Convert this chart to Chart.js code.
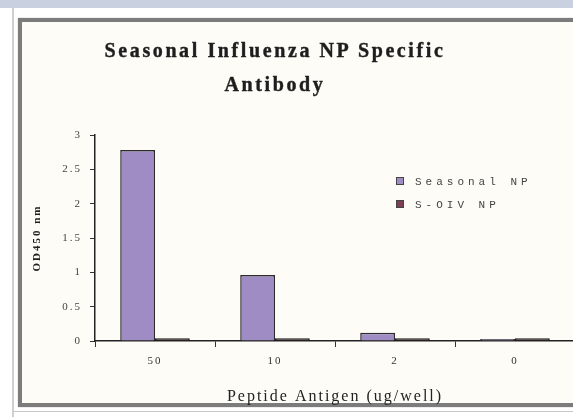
<!DOCTYPE html>
<html>
<head>
<meta charset="utf-8">
<script src="https://cdn.jsdelivr.net/npm/chart.js@4.4.1/dist/chart.umd.min.js"></script>
<style>
  html, body { margin: 0; padding: 0; }
  body { width: 573px; height: 417px; overflow: hidden; position: relative; background: #ffffff; }
  #topbar { position: absolute; left: 0; top: 0; width: 573px; height: 8px; background: #c9d1e0; }
  #leftline { position: absolute; left: 12px; top: 8px; width: 2px; height: 409px; background: #cfcfcf; }
  #frame { position: absolute; left: 18px; top: 18px; width: 600px; height: 381px; border: 4px solid #7c7c7c; border-right: none; background: #fdfcf7; box-shadow: 0 0 1px #999; }
  #botline { position: absolute; left: 14px; top: 411px; width: 560px; height: 1px; background: #c8c8c8; }
  #title { position: absolute; left: 0; top: 33px; width: 550px; text-align: center; font: bold 20px "Liberation Serif", serif; letter-spacing: 2.6px; line-height: 34px; color: #1e1e1e; -webkit-text-stroke: 0.4px #1e1e1e; }
  #legend { position: absolute; left: 396px; top: 172px; font: 11px "Liberation Mono", monospace; letter-spacing: 4px; color: #444; }
  .li { height: 23px; line-height: 20px; white-space: nowrap; }
  .sw { display: inline-block; width: 6px; height: 6px; border: 1px solid #444; margin-right: 11px; vertical-align: middle; position: relative; top: -1px; }
  canvas { position: absolute; left: 0; top: 0; }
</style>
</head>
<body>
<div id="topbar"></div>
<div id="leftline"></div>
<div id="frame"></div>
<div id="botline"></div>
<canvas id="c" width="590" height="417" style="width:590px;height:417px"></canvas>
<div id="title">Seasonal Influenza NP Specific<br>Antibody</div>
<div id="legend"></div>
<script>
const categories = ["50", "10", "2", "0"];
const seasonalNP = [2.78, 0.96, 0.12, 0.03];
const soivNP = [0.04, 0.04, 0.04, 0.04];
const seriesNames = ["Seasonal NP", "S-OIV NP"];
const seriesColors = ["#a08cc4", "#7e3f56"];
const yTicks = [0, 0.5, 1, 1.5, 2, 2.5, 3];

const spacingPlugin = {
  id: 'spacing',
  beforeUpdate(chart) { chart.ctx.letterSpacing = '2px'; },
  beforeLayout(chart) { chart.ctx.letterSpacing = '2px'; },
  beforeDraw(chart) { chart.ctx.letterSpacing = '2px'; }
};

new Chart(document.getElementById('c'), {
  type: 'bar',
  data: {
    labels: categories,
    datasets: [
      { label: seriesNames[0], data: seasonalNP, backgroundColor: seriesColors[0], borderColor: '#2b2b2b', borderWidth: 1.5 },
      { label: seriesNames[1], data: soivNP, backgroundColor: '#3a1c28', borderColor: '#1a1a1a', borderWidth: 1.5 }
    ]
  },
  options: {
    responsive: false,
    animation: false,
    layout: { padding: { left: 20, right: 15, top: 135, bottom: 0 } },
    datasets: { bar: { categoryPercentage: 0.58, barPercentage: 1.0 } },
    plugins: {
      legend: { display: false },
      title: { display: false },
      tooltip: { enabled: false }
    },
    scales: {
      x: {
        offset: true,
        grid: { offset: true, drawOnChartArea: false, tickLength: 6, color: '#333' },
        border: { display: true, color: '#222', width: 1.5 },
        ticks: { padding: 8, color: '#333', font: { family: 'Liberation Serif', size: 11 } },
        title: { display: true, text: 'Peptide Antigen (ug/well)', color: '#222', font: { family: 'Liberation Serif', size: 16 }, padding: { top: 0, bottom: 11 } },
        afterFit(s) { s.height = 76; }
      },
      y: {
        min: 0, max: 3,
        afterBuildTicks(s) { s.ticks = yTicks.map(v => ({ value: v })); },
        grid: { drawOnChartArea: false, tickLength: 5, color: '#333' },
        border: { display: true, color: '#222', width: 1.5 },
        ticks: { padding: 8, color: '#444', font: { family: 'Liberation Serif', size: 11 }, callback: (v) => String(v) },
        title: { display: true, text: 'OD450 nm', color: '#222', font: { family: 'Liberation Serif', size: 11, weight: 'bold' }, padding: { top: 11, bottom: 0 } },
        afterFit(s) { s.width = 75; }
      }
    }
  },
  plugins: [spacingPlugin]
});

const leg = document.getElementById('legend');
seriesNames.forEach((n, i) => {
  const d = document.createElement('div');
  d.className = 'li';
  const sw = document.createElement('span');
  sw.className = 'sw';
  sw.style.background = seriesColors[i];
  d.appendChild(sw);
  d.appendChild(document.createTextNode(n));
  leg.appendChild(d);
});
</script>
</body>
</html>
